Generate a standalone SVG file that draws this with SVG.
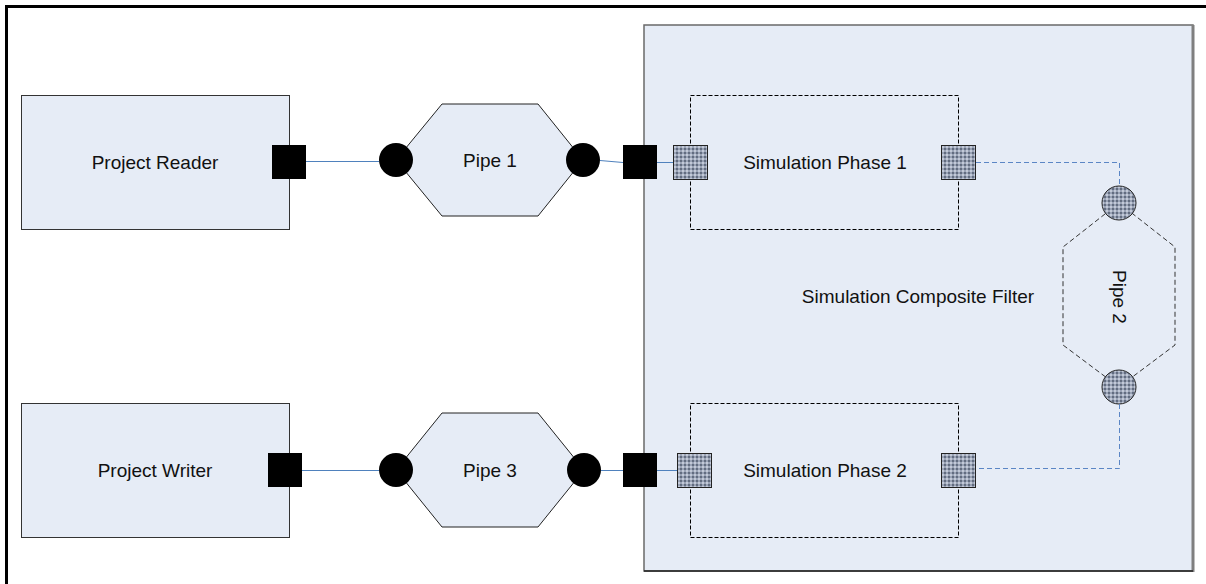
<svg xmlns="http://www.w3.org/2000/svg" width="1206" height="584" viewBox="0 0 1206 584">
  <defs>
    <!-- dotted fill used for the inner ports and Pipe 2 ends -->
    <pattern id="dots" width="4" height="4" patternUnits="userSpaceOnUse">
      <rect width="4" height="4" fill="#9AA3B6"/>
      <circle cx="1" cy="1" r="0.9" fill="#485266"/>
      <circle cx="3" cy="3" r="0.9" fill="#D6DCE8"/>
    </pattern>
    <style>
      .box { fill: #E6ECF6; stroke: #333; stroke-width: 1; }
      .hex { fill: #E6ECF6; stroke: #222; stroke-width: 1; }
      .port { fill: #000; }
      .end { fill: #000; }
      .inport { fill: url(#dots); stroke: #222; stroke-width: 1; }
      .phase { fill: none; stroke: #000; stroke-width: 1; stroke-dasharray: 4 2; }
      .pipe2 { fill: none; stroke: #333; stroke-width: 1; stroke-dasharray: 5 3; }
      .label { font-family: "Liberation Sans", Arial, sans-serif; font-size: 19px; fill: #111; text-anchor: middle; dominant-baseline: central; }
      .wire { fill: none; stroke: #4F81BD; stroke-width: 1; }
      .wire-dash { fill: none; stroke: #5B86C5; stroke-width: 1; stroke-dasharray: 5 3; }
    </style>
  </defs>

  <rect width="1206" height="584" fill="#fff"/>
  <!-- page frame (top and left edges) -->
  <path d="M6.5,584 V6.5 H1206" fill="none" stroke="#000" stroke-width="3"/>

  <!-- composite filter container -->
  <g id="composite">
    <rect x="644" y="25" width="549" height="546" fill="#E6ECF6" stroke="#6A6A6A" stroke-width="1.5"/>
    <path d="M1193,25 V572" stroke="#7F7F7F" stroke-width="3"/>
    <path d="M644,571 H1193" stroke="#222" stroke-width="1.5"/>
    <text class="label" x="918" y="296">Simulation Composite Filter</text>
  </g>

  <g id="phase1">
    <rect class="phase" x="690.5" y="95.5" width="268" height="134"/>
    <text class="label" x="825" y="162">Simulation Phase 1</text>
    <rect class="inport" x="673.5" y="145.5" width="34" height="34"/>
    <rect class="inport" x="941.5" y="145.5" width="34" height="34"/>
  </g>

  <g id="phase2">
    <rect class="phase" x="690.5" y="403.5" width="268" height="134"/>
    <text class="label" x="825" y="470">Simulation Phase 2</text>
    <rect class="inport" x="677.5" y="453.5" width="34" height="34"/>
    <rect class="inport" x="941.5" y="453.5" width="34" height="34"/>
  </g>

  <g id="pipe2">
    <polygon class="pipe2" points="1119,203 1175,247 1175,345 1119,387 1063,345 1063,247"/>
    <text class="label" transform="translate(1119,297) rotate(90)">Pipe 2</text>
    <circle cx="1119" cy="203" r="17" fill="url(#dots)" stroke="#222" stroke-width="1"/>
    <circle cx="1119" cy="387" r="17" fill="url(#dots)" stroke="#222" stroke-width="1"/>
  </g>

  <g id="reader">
    <rect class="box" x="21.5" y="95.5" width="268" height="134"/>
    <text class="label" x="155" y="162">Project Reader</text>
    <rect class="port" x="272" y="145" width="34" height="34"/>
  </g>

  <g id="writer">
    <rect class="box" x="21.5" y="403.5" width="268" height="134"/>
    <text class="label" x="155" y="470">Project Writer</text>
    <rect class="port" x="268" y="453" width="34" height="34"/>
  </g>

  <g id="pipe1">
    <polygon class="hex" points="396,160 442,104 538,104 583,160 538,216 442,216"/>
    <text class="label" x="490" y="160">Pipe 1</text>
    <circle class="end" cx="396" cy="160" r="17"/>
    <circle class="end" cx="583" cy="160" r="17"/>
  </g>

  <g id="pipe3">
    <polygon class="hex" points="396,470 442,413 538,413 584,470 538,527 442,527"/>
    <text class="label" x="490" y="470">Pipe 3</text>
    <circle class="end" cx="396" cy="470" r="17"/>
    <circle class="end" cx="584" cy="470" r="17"/>
  </g>

  <!-- boundary ports of the composite filter -->
  <g id="composite-in1">
    <rect class="port" x="623" y="145" width="34" height="34"/>
  </g>
  <g id="composite-in2">
    <rect class="port" x="623" y="453" width="34" height="34"/>
  </g>

  <g id="connectors">
    <path class="wire" d="M306,161.5 H379"/>
    <path class="wire" d="M600,160.5 L623,162.5"/>
    <path class="wire" d="M657,162.5 H673"/>
    <path class="wire" d="M302,470.5 H379"/>
    <path class="wire" d="M601,470.5 H623"/>
    <path class="wire" d="M657,470.5 H677"/>
    <path class="wire-dash" d="M976,162.5 H1119.5 V186"/>
    <path class="wire-dash" d="M1119.5,404 V468.5 H976"/>
  </g>
</svg>
